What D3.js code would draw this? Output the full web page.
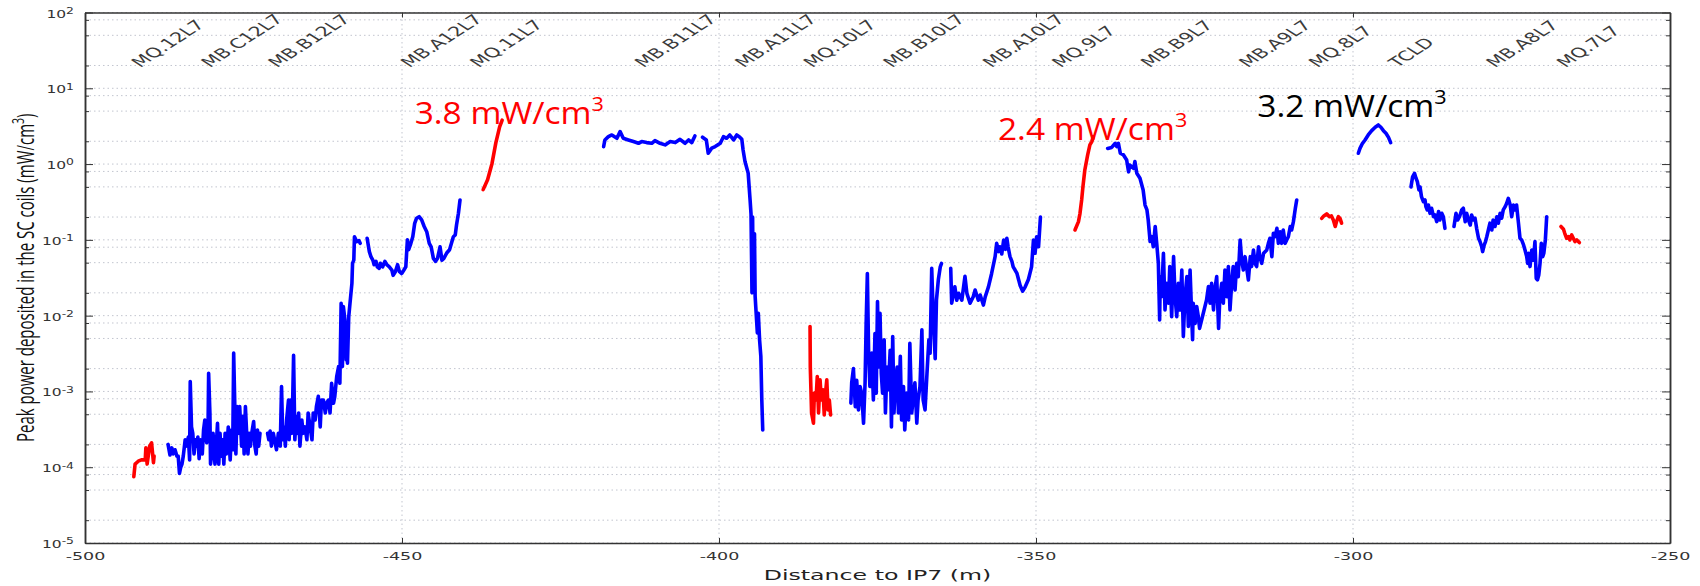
<!DOCTYPE html>
<html>
<head>
<meta charset="utf-8">
<script src="https://cdn.jsdelivr.net/npm/d3@7"></script>
<style>
  body { margin: 0; background: #fff; }
  .grid line { stroke: #c2c5cf; stroke-width: 1; stroke-dasharray: 1.5 3; }
  .trace { fill: none; stroke-width: 3.6; stroke-linejoin: round; stroke-linecap: round; }
  .axis path, .axis line { stroke: #333; }
  .axis path { stroke-width: 1.5; }
</style>
</head>
<body>
<script>
// distance to IP7 (m), peak power (mW/cm3)
const q12Red = [[-492.3,7.5e-5],[-492.1,1.1e-4],[-491.6,1.2e-4],[-491.1,1.25e-4],[-490.5,1.25e-4],[-490.4,1.8e-4],[-490.2,1.1e-4],[-489.8,1.9e-4],[-489.5,2.1e-4],[-489.2,1.15e-4],[-489.1,1.4e-4]];

const c12Blue = [[-486.9,2.0e-4],[-486.6,1.45e-4],[-486.3,1.8e-4],[-486.1,1.5e-4],[-485.8,1.7e-4],[-485.5,1.4e-4],[-485.3,1.4e-4],[-485.1,8.3e-5],[-484.9,1.0e-4],[-484.7,1.1e-4],[-484.5,1.4e-4],[-484.2,2.3e-4],[-484.0,1.9e-4],[-483.7,2.5e-4],[-483.5,1.25e-4],[-483.4,1.35e-3],[-483.2,3.4e-4],[-483.0,2.8e-4],[-482.8,1.5e-4],[-482.6,2.3e-4],[-482.4,1.9e-4],[-482.2,2.5e-4],[-482.0,1.3e-4],[-481.8,2.3e-4],[-481.5,1.5e-4],[-481.3,3.1e-4],[-481.1,4.2e-4],[-480.8,2.1e-4],[-480.6,2.8e-4],[-480.5,1.74e-3],[-480.3,5.2e-4],[-480.2,1.1e-4],[-480.0,1.5e-4],[-479.8,2.8e-4],[-479.5,1.1e-4],[-479.3,1.9e-4],[-479.1,3.8e-4],[-478.9,1.1e-4],[-478.7,2.8e-4],[-478.5,1.4e-4],[-478.3,2.3e-4],[-478.1,1.1e-4],[-477.9,2.8e-4],[-477.7,1.5e-4],[-477.4,3.4e-4],[-477.1,1.25e-4],[-476.9,3.1e-4],[-476.7,1.7e-4],[-476.55,3.2e-3],[-476.3,3.4e-4],[-476.2,1.5e-4],[-476.0,6.3e-4],[-475.8,2.8e-4],[-475.6,6.3e-4],[-475.3,1.9e-4],[-475.1,4.7e-4],[-474.9,1.5e-4],[-474.7,6.3e-4],[-474.5,2.8e-4],[-474.3,1.5e-4],[-474.1,2.8e-4],[-473.9,1.9e-4],[-473.7,2.8e-4],[-473.4,4.0e-4],[-473.2,1.9e-4],[-473.0,1.5e-4],[-472.8,3.1e-4],[-472.6,1.9e-4],[-472.4,2.8e-4]];

const b12Blue = [[-471.2,2.8e-4],[-471.0,2.3e-4],[-470.8,3.0e-4],[-470.6,1.9e-4],[-470.3,2.8e-4],[-470.0,2.1e-4],[-469.8,1.7e-4],[-469.5,2.8e-4],[-469.2,1.9e-4],[-469.0,1.16e-3],[-468.8,2.3e-4],[-468.6,3.4e-4],[-468.4,1.9e-4],[-468.2,4.2e-4],[-467.9,7.7e-4],[-467.8,2.3e-4],[-467.6,7.7e-4],[-467.35,2.8e-4],[-467.1,3.0e-3],[-466.9,2.3e-4],[-466.7,4.7e-4],[-466.5,2.8e-4],[-466.3,5.2e-4],[-466.1,1.9e-4],[-465.8,4.2e-4],[-465.6,2.8e-4],[-465.3,3.4e-4],[-465.0,2.3e-4],[-464.8,5.2e-4],[-464.5,3.4e-4],[-464.2,2.3e-4],[-464.0,5.2e-4],[-463.7,4.2e-4],[-463.5,6.3e-4],[-463.2,8.6e-4],[-462.9,3.4e-4],[-462.7,7.7e-4],[-462.4,7.7e-4],[-462.1,5.2e-4],[-461.9,7.0e-4],[-461.6,7.7e-4],[-461.35,5.2e-4],[-461.1,1.28e-3],[-460.8,7.0e-4],[-460.6,8.6e-4],[-460.3,1.57e-3],[-460.0,2.13e-3],[-459.8,1.28e-3],[-459.6,0.0146],[-459.4,2.13e-3],[-459.25,0.0132],[-459.0,8.8e-3],[-458.8,2.6e-3],[-458.7,5.85e-3],[-458.6,2.36e-3],[-458.4,9.7e-3],[-458.2,0.0146],[-457.9,0.0267],[-457.8,0.049],[-457.6,0.054],[-457.5,0.11],[-457.15,0.095],[-456.8,0.098],[-456.6,0.09]];

const a12Blue = [[-455.5,0.105],[-455.15,0.07],[-454.9,0.06],[-454.6,0.054],[-454.4,0.047],[-454.1,0.052],[-453.9,0.044],[-453.6,0.042],[-453.4,0.049],[-453.05,0.044],[-452.7,0.052],[-452.4,0.047],[-452.0,0.044],[-451.6,0.04],[-451.4,0.034],[-451.05,0.038],[-450.7,0.047],[-450.4,0.038],[-450.05,0.036],[-449.7,0.04],[-449.4,0.044],[-449.15,0.1],[-448.95,0.074],[-448.6,0.09],[-448.3,0.11],[-448.0,0.165],[-447.7,0.193],[-447.3,0.202],[-446.9,0.183],[-446.5,0.15],[-446.1,0.128],[-445.7,0.09],[-445.4,0.081],[-445.05,0.057],[-444.7,0.052],[-444.4,0.057],[-444.0,0.081],[-443.7,0.054],[-443.4,0.057],[-442.95,0.067],[-442.5,0.074],[-442.2,0.09],[-441.9,0.11],[-441.6,0.116],[-441.4,0.157],[-441.1,0.224],[-440.85,0.336]];

const q11Red = [[-437.2,0.46],[-436.5,0.62],[-435.8,1.02],[-435.2,1.9],[-434.6,3.1],[-434.2,3.8]];

const b11Blue = [[-418.2,1.7],[-418.0,2.08],[-417.45,2.3],[-416.9,2.42],[-416.1,2.19],[-415.6,2.68],[-415.1,2.19],[-414.3,2.08],[-413.5,1.98],[-412.7,1.88],[-412.2,1.98],[-411.4,1.92],[-410.6,1.88],[-410.1,2.04],[-409.3,1.88],[-408.5,1.79],[-407.7,1.98],[-406.9,1.92],[-406.15,2.12],[-405.35,1.88],[-404.8,2.08],[-404.3,1.92],[-403.8,2.35]];

const a11Blue = [[-402.6,2.26],[-402.0,2.08],[-401.7,1.39],[-401.15,1.62],[-400.6,1.7],[-399.8,1.88],[-399.3,2.3],[-398.8,2.19],[-398.3,2.42],[-397.7,2.08],[-397.2,2.42],[-396.8,2.3],[-396.4,2.12],[-396.2,1.53],[-395.9,1.08],[-395.4,0.76],[-395.1,0.34],[-394.95,0.22],[-394.8,0.02],[-394.7,0.2],[-394.6,0.022],[-394.4,0.12],[-394.3,0.018],[-394.2,0.013],[-393.95,0.0059],[-393.8,0.0107],[-393.6,0.0048],[-393.4,0.0029],[-393.25,7.7e-4],[-393.1,3.1e-4]];

const q10Red = [[-385.64,7.2e-3],[-385.6,2.1e-3],[-385.5,1.05e-3],[-385.4,5.2e-4],[-385.1,3.8e-4],[-384.96,9.5e-4],[-384.7,7.7e-4],[-384.5,1.57e-3],[-384.3,5.2e-4],[-384.06,1.42e-3],[-383.85,7.7e-4],[-383.6,1.05e-3],[-383.4,4.9e-4],[-383.2,9.5e-4],[-383.0,1.42e-3],[-382.8,5.7e-4],[-382.6,7.7e-4],[-382.4,4.9e-4]];

const b10Blue = [[-379.2,7.0e-4],[-379.07,1.3e-3],[-378.8,2.0e-3],[-378.5,6.3e-4],[-378.28,1.4e-3],[-378.0,5.7e-4],[-377.75,1.16e-3],[-377.5,9.5e-4],[-377.2,3.8e-4],[-376.96,1.3e-3],[-376.8,7.2e-3],[-376.6,0.036],[-376.4,3.2e-3],[-376.2,1.16e-3],[-375.9,3.2e-3],[-375.65,7.7e-4],[-375.4,5.8e-3],[-375.2,9.5e-4],[-375.0,0.0153],[-374.8,2.1e-3],[-374.6,0.0107],[-374.4,1.7e-3],[-374.2,9.5e-4],[-373.95,4.8e-3],[-373.75,5.2e-4],[-373.5,2.1e-3],[-373.3,1.05e-3],[-373.0,3.5e-3],[-372.8,3.4e-4],[-372.6,5.3e-3],[-372.4,5.2e-4],[-372.2,1.16e-3],[-371.9,2.1e-3],[-371.7,5.2e-4],[-371.4,2.9e-3],[-371.2,4.2e-4],[-370.9,1.16e-3],[-370.7,3.1e-4],[-370.4,9.5e-4],[-370.1,4.2e-4],[-369.9,4.3e-3],[-369.6,5.2e-4],[-369.4,7.7e-4],[-369.1,1.3e-3],[-368.8,3.8e-4],[-368.6,7.7e-4],[-368.3,1.16e-3],[-368.0,6.5e-3],[-367.8,7.7e-4],[-367.5,5.7e-4],[-367.2,1.7e-3],[-366.9,4.8e-3],[-366.7,3.2e-3],[-366.45,0.042],[-366.2,9.7e-3],[-365.9,2.7e-3],[-365.7,0.0161],[-365.4,0.03],[-365.1,0.044],[-364.9,0.049]];

const a10Blue = [[-363.45,0.042],[-363.3,0.0146],[-362.8,0.024],[-362.5,0.016],[-362.2,0.0197],[-361.7,0.016],[-361.2,0.033],[-360.9,0.0197],[-360.4,0.0146],[-359.9,0.0178],[-359.6,0.0218],[-359.1,0.016],[-358.8,0.0187],[-358.3,0.0138],[-358.0,0.0178],[-357.5,0.024],[-357.0,0.036],[-356.45,0.06],[-356.2,0.09],[-355.9,0.07],[-355.7,0.081],[-355.4,0.065],[-355.1,0.0997],[-354.8,0.075],[-354.6,0.105],[-354.4,0.081],[-354.1,0.06],[-353.8,0.052],[-353.6,0.044],[-353.3,0.04],[-353.0,0.036],[-352.5,0.025],[-352.1,0.021],[-351.7,0.024],[-351.2,0.03],[-350.7,0.044],[-350.4,0.0997],[-350.15,0.0665],[-349.9,0.11],[-349.6,0.081],[-349.3,0.2]];

const q9Red = [[-343.85,0.135],[-343.3,0.174],[-343.06,0.224],[-342.8,0.336],[-342.6,0.5],[-342.3,0.835],[-341.85,1.32],[-341.5,1.79],[-341.2,1.98],[-340.95,2.3]];

const b9Blue = [[-338.7,1.61],[-338.06,1.66],[-337.5,1.88],[-337.27,1.7],[-337.0,1.88],[-336.7,1.39],[-336.2,1.32],[-335.7,1.13],[-335.4,0.79],[-335.2,0.97],[-334.6,0.88],[-334.4,1.08],[-334.1,0.755],[-333.6,0.65],[-333.1,0.455],[-332.8,0.288],[-332.5,0.248],[-332.3,0.183],[-332.0,0.095],[-331.75,0.11],[-331.5,0.081],[-331.2,0.15],[-330.96,0.09],[-330.7,0.049],[-330.5,0.0088],[-330.4,0.0327],[-330.2,0.0178],[-329.9,0.0665],[-329.65,0.0119],[-329.4,0.0267],[-329.1,0.0146],[-328.9,0.0444],[-328.6,0.0097],[-328.3,0.06],[-328.07,0.0178],[-327.8,0.0097],[-327.55,0.0267],[-327.3,0.0119],[-327.0,0.04],[-326.76,0.0053],[-326.5,0.0178],[-326.2,0.0327],[-325.97,0.0072],[-325.7,0.04],[-325.44,0.0097],[-325.3,0.0048],[-325.2,0.0146],[-324.9,0.0079],[-324.65,0.0132],[-324.4,0.0097],[-324.2,0.0068],[-323.1,0.0161],[-322.8,0.0242],[-322.55,0.0146],[-322.3,0.0267],[-322.0,0.0119],[-321.8,0.0218],[-321.5,0.0327],[-321.2,0.0068],[-321.0,0.0178],[-320.7,0.0267],[-320.45,0.0146],[-320.2,0.04],[-319.9,0.0178],[-319.66,0.0444],[-319.4,0.0119],[-319.1,0.0296],[-318.9,0.0444],[-318.6,0.0218],[-318.35,0.049],[-318.1,0.0327],[-317.8,0.0997],[-317.56,0.054],[-317.3,0.04],[-317.03,0.06],[-316.8,0.0444],[-316.5,0.0296],[-316.2,0.06],[-316.0,0.0444],[-315.7,0.0736],[-315.45,0.049],[-315.2,0.0444],[-314.9,0.081],[-314.7,0.06],[-314.4,0.049],[-314.1,0.0665],[-313.6,0.0736],[-313.35,0.09],[-313.1,0.105],[-312.8,0.06],[-312.56,0.122],[-312.3,0.11],[-312.0,0.142],[-311.77,0.09],[-311.5,0.128],[-311.25,0.09],[-311.0,0.135],[-310.7,0.09],[-310.46,0.0997],[-310.2,0.11],[-309.9,0.15],[-309.67,0.135],[-309.4,0.174],[-309.1,0.26],[-308.88,0.336]];

const q8Red = [[-304.94,0.192],[-304.6,0.207],[-304.15,0.22],[-303.7,0.202],[-303.4,0.207],[-303.1,0.183],[-302.8,0.15],[-302.6,0.174],[-302.3,0.202],[-302.05,0.192],[-301.8,0.166]];

const tcldBlue = [[-299.16,1.39],[-298.9,1.61],[-298.5,1.88],[-298.1,2.08],[-297.6,2.42],[-297.05,2.76],[-296.5,3.06],[-296.0,3.28],[-295.6,3.06],[-295.2,2.76],[-294.8,2.55],[-294.4,2.25],[-294.06,1.92]];

const a8BlueA = [[-290.85,0.5],[-290.6,0.68],[-290.3,0.755],[-290.06,0.65],[-289.85,0.586],[-289.6,0.455],[-289.43,0.5],[-289.2,0.372],[-288.9,0.319],[-288.64,0.336],[-288.5,0.274],[-288.3,0.248],[-288.1,0.288],[-287.85,0.224],[-287.6,0.261],[-287.3,0.202],[-287.07,0.213],[-286.8,0.174],[-286.5,0.236],[-286.3,0.183],[-286.0,0.224],[-285.75,0.202],[-285.5,0.142]];

const a8BlueB = [[-284.07,0.15],[-283.75,0.224],[-283.5,0.183],[-283.2,0.202],[-282.86,0.248],[-282.6,0.261],[-282.3,0.174],[-282.07,0.224],[-281.8,0.183],[-281.5,0.157],[-281.3,0.213],[-281.0,0.183],[-280.75,0.193],[-280.5,0.142],[-280.2,0.105],[-279.97,0.095],[-279.7,0.081],[-279.55,0.07],[-279.3,0.0857],[-279.1,0.095],[-278.9,0.11],[-278.65,0.135],[-278.4,0.166],[-278.1,0.135],[-277.9,0.183],[-277.6,0.15],[-277.3,0.202],[-277.07,0.166],[-276.8,0.224],[-276.55,0.193],[-276.3,0.248],[-276.0,0.274],[-275.76,0.303],[-275.5,0.353],[-275.2,0.288],[-274.97,0.202],[-274.7,0.288],[-274.45,0.248],[-274.2,0.288],[-273.9,0.166],[-273.66,0.105],[-273.4,0.0997],[-273.1,0.0857],[-272.87,0.0736],[-272.6,0.06],[-272.45,0.049],[-272.3,0.0665],[-272.08,0.0444],[-271.8,0.0736],[-271.55,0.054],[-271.3,0.095],[-271.1,0.0311],[-270.9,0.0296],[-270.7,0.0344],[-270.5,0.049],[-270.3,0.09],[-270.08,0.06],[-269.9,0.0665],[-269.66,0.0997],[-269.45,0.202]];

const q7Red = [[-267.2,0.15],[-266.8,0.138],[-266.6,0.122],[-266.3,0.105],[-266.0,0.11],[-265.8,0.0997],[-265.5,0.116],[-265.25,0.105],[-265.0,0.095],[-264.7,0.0997],[-264.3,0.092]];

const redTraces = [q12Red, q11Red, q10Red, q9Red, q8Red, q7Red];
const blueTraces = [c12Blue, b12Blue, a12Blue, b11Blue, a11Blue, b10Blue, a10Blue, b9Blue, tcldBlue, a8BlueA, a8BlueB];

const magnetNames = ["MQ.12L7","MB.C12L7","MB.B12L7","MB.A12L7","MQ.11L7","MB.B11L7","MB.A11L7","MQ.10L7","MB.B10L7","MB.A10L7","MQ.9L7","MB.B9L7","MB.A9L7","MQ.8L7","TCLD","MB.A8L7","MQ.7L7"];
const magnetPos = [-491.3,-480.3,-469.7,-448.8,-437.9,-411.9,-396.1,-385.3,-372.7,-357.0,-346.1,-332.1,-316.6,-305.6,-293.0,-277.6,-266.5];

const peakLabels = ["3.8 mW/cm", "2.4 mW/cm", "3.2 mW/cm"];
const peakLabelX = [-448.0, -356.0, -315.1];
const peakLabelY = [3.4, 2.1, 4.2];
const peakLabelColor = ["#ff0000", "#ff0000", "#000000"];

const xTicks = [-500, -450, -400, -350, -300, -250];
const yDecades = [1e-5, 1e-4, 1e-3, 1e-2, 1e-1, 1, 10, 100];
const yExponents = ["-5", "-4", "-3", "-2", "-1", "0", "1", "2"];
const gridMantissas = [1, 2, 5, 8];

const W = 1700, H = 586;
const STRETCH = 1.55; // the original figure is stretched horizontally

const x = d3.scaleLinear().domain([-500, -250]).range([85, 1670]);
const y = d3.scaleLog().domain([1e-5, 1e2]).range([543, 12.5]);

const gridVals = y.ticks().filter(v => {
  const m = Math.round(v / Math.pow(10, Math.floor(Math.log10(v) + 1e-9)));
  return gridMantissas.includes(m);
});
const minorVals = gridVals.filter(v => !yDecades.some(d => Math.abs(d - v) / d < 1e-6));

const svg = d3.select("body").append("svg").attr("width", W).attr("height", H);

// grid
svg.append("g").attr("class", "grid")
  .selectAll("line").data(gridVals).join("line")
  .attr("x1", x(-500)).attr("x2", x(-250))
  .attr("y1", d => y(d)).attr("y2", d => y(d));
svg.append("g").attr("class", "grid")
  .selectAll("line").data(xTicks.slice(1, -1)).join("line")
  .attr("x1", d => x(d)).attr("x2", d => x(d))
  .attr("y1", y(1e-5)).attr("y2", y(1e2));

// traces
const line = d3.line().x(d => x(d[0])).y(d => y(d[1]));
svg.append("g").selectAll("path").data(blueTraces).join("path")
  .attr("class", "trace").attr("stroke", "#0000ff").attr("d", line);
svg.append("g").selectAll("path").data(redTraces).join("path")
  .attr("class", "trace").attr("stroke", "#ff0000").attr("d", line);

// axes (ticks point inward)
const [x0, x1] = x.range();
const [yb, yt] = y.range();

svg.append("g").attr("class", "axis").attr("transform", `translate(${x0},0)`)
  .call(d3.axisLeft(y).tickValues(minorVals).tickSizeInner(-4).tickSizeOuter(0).tickFormat(""));
svg.append("g").attr("class", "axis").attr("transform", `translate(${x1},0)`)
  .call(d3.axisRight(y).tickValues(minorVals).tickSizeInner(-4).tickSizeOuter(0).tickFormat(""));
svg.append("g").attr("class", "axis").attr("transform", `translate(${x1},0)`)
  .call(d3.axisRight(y).tickValues(yDecades).tickSizeInner(-8).tickSizeOuter(0).tickFormat(""));
svg.append("g").attr("class", "axis").attr("transform", `translate(0,${yt})`)
  .call(d3.axisTop(x).tickValues(xTicks).tickSizeInner(-5).tickSizeOuter(0).tickFormat(""));

const yAxis = svg.append("g").attr("class", "axis").attr("transform", `translate(${x0},0)`)
  .call(d3.axisLeft(y).tickValues(yDecades).tickSizeInner(-8).tickSizeOuter(0).tickFormat(""));
yAxis.selectAll(".tick text").each(function(d, i) {
  const t = d3.select(this)
    .attr("x", null).attr("dy", null)
    .attr("transform", `translate(-11,4.5) scale(${STRETCH},1)`)
    .attr("text-anchor", "end")
    .attr("font-family", "DejaVu Sans").attr("font-size", 10).attr("fill", "#333");
  t.append("tspan").text("10");
  t.append("tspan").attr("font-size", 8).attr("dy", -3.6).text(yExponents[i]);
});

const xAxis = svg.append("g").attr("class", "axis").attr("transform", `translate(0,${yb})`)
  .call(d3.axisBottom(x).tickValues(xTicks).tickSizeInner(-5).tickSizeOuter(0).tickFormat(d => String(d)));
xAxis.selectAll(".tick text")
  .attr("y", null).attr("dy", null)
  .attr("transform", `translate(0,17) scale(${STRETCH},1)`)
  .attr("font-family", "DejaVu Sans").attr("font-size", 11.3).attr("fill", "#333");

// axis titles
svg.append("text")
  .attr("transform", `translate(${(x0 + x1) / 2},580) scale(1.6,1)`)
  .attr("text-anchor", "middle")
  .attr("font-family", "DejaVu Sans").attr("font-size", 14.8).attr("fill", "#222")
  .text("Distance to IP7 (m)");

const yTitle = svg.append("text")
  .attr("transform", `translate(34,${(yb + yt) / 2}) scale(${STRETCH},1) rotate(-90)`)
  .attr("text-anchor", "middle")
  .attr("font-family", "Open Sans").attr("font-size", 15).attr("fill", "#111");
yTitle.append("tspan").text("Peak power deposited in the SC coils (mW/cm");
yTitle.append("tspan").attr("font-size", 10.5).attr("dy", -6.5).text("3");
yTitle.append("tspan").attr("dy", 6.5).text(")");

// magnet names along the top
svg.append("g").selectAll("text").data(magnetNames).join("text")
  .attr("transform", (d, i) => `translate(${x(magnetPos[i])},68) scale(${STRETCH},1) rotate(-45)`)
  .attr("font-family", "DejaVu Sans").attr("font-size", 13.5).attr("fill", "#3a3a3a")
  .text(d => d);

// peak value annotations
const notes = svg.append("g").selectAll("text").data(peakLabels).join("text")
  .attr("transform", (d, i) => `translate(${x(peakLabelX[i])},${y(peakLabelY[i])}) scale(1.08,1)`)
  .attr("font-family", "Open Sans").attr("font-size", 31)
  .attr("fill", (d, i) => peakLabelColor[i]);
notes.append("tspan").text(d => d);
notes.append("tspan").attr("font-size", 20).attr("dy", -13).text("3");
</script>
</body>
</html>
